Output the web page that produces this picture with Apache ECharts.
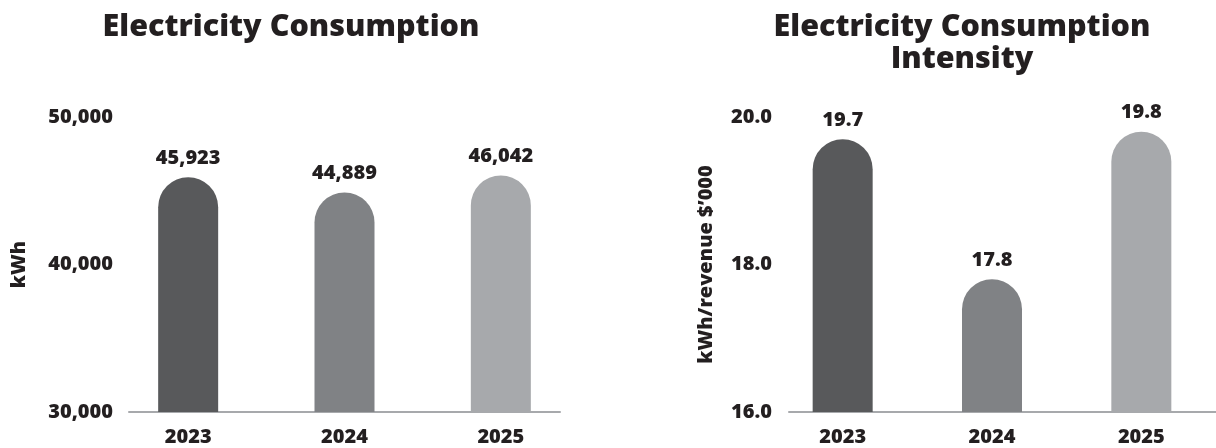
<!DOCTYPE html>
<html>
<head>
<meta charset="utf-8">
<style>
  html, body { margin: 0; padding: 0; background: #ffffff; }
  #chart { width: 1216px; height: 448px; }
</style>
<script src="https://cdn.jsdelivr.net/npm/echarts@6/dist/echarts.min.js"></script>
</head>
<body>
<div id="chart"></div>
<script>
// Reporting years
const years = ['2023', '2024', '2025'];

// Electricity consumption, kWh
const consumption = [45923, 44889, 46042];
const consumptionTicks = { min: 30000, max: 50000, step: 10000 };

// Consumption intensity, kWh per $'000 revenue
const intensity = [19.7, 17.8, 19.8];
const intensityTicks = { min: 16, max: 20, step: 2 };

// One shade per year, darkest first
const barColors = ['#58595b', '#808285', '#a7a9ac'];

const FONT = '"Open Sans", Lato, sans-serif';
const WEIGHT = 800;
const INK = '#231f20';
const AXIS_GREY = '#a7a9ac';

const chart = echarts.init(document.getElementById('chart'), null, { renderer: 'canvas' });

const plotTop = 117;
const plotHeight = 295;

function commas(v) {
  return String(Math.round(v)).replace(/\B(?=(\d{3})+(?!\d))/g, ',');
}

function barSeries(values, axisIdx, fmt) {
  return {
    type: 'bar',
    xAxisIndex: axisIdx,
    yAxisIndex: axisIdx,
    data: values,
    barWidth: 60,
    itemStyle: {
      color: p => barColors[p.dataIndex],
      borderRadius: [30, 30, 0, 0]
    },
    label: {
      show: true,
      position: 'top',
      distance: 9,
      formatter: p => fmt(p.value),
      fontFamily: FONT,
      fontWeight: WEIGHT,
      fontSize: 20,
      color: INK
    },
    silent: true
  };
}

const tickText = { fontFamily: FONT, fontWeight: WEIGHT, fontSize: 20, color: INK };
const titleText = { fontFamily: FONT, fontWeight: WEIGHT, fontSize: 30.5, color: INK, lineHeight: 32 };

const option = {
  backgroundColor: '#ffffff',
  animation: false,
  title: [
    {
      text: 'Electricity Consumption',
      left: 286,
      top: 6,
      textAlign: 'center',
      textStyle: titleText
    },
    {
      text: 'Electricity Consumption\nIntensity',
      left: 957,
      top: 6,
      textAlign: 'center',
      textStyle: titleText
    }
  ],
  grid: [
    // bar bands, left chart
    { left: 110, width: 469, top: plotTop, height: plotHeight },
    // baseline and value scale, left chart
    { left: 129, width: 431, top: plotTop, height: plotHeight },
    // bar bands, right chart
    { left: 768, width: 471, top: plotTop, height: plotHeight },
    // baseline and value scale, right chart
    { left: 789, width: 427, top: plotTop, height: plotHeight }
  ],
  xAxis: [
    {
      gridIndex: 0, type: 'category', data: years,
      axisLine: { show: false }, axisTick: { show: false },
      axisLabel: Object.assign({ margin: 15 }, tickText)
    },
    {
      gridIndex: 1, type: 'category', data: years,
      axisLine: { show: true, lineStyle: { color: AXIS_GREY, width: 2 } },
      axisTick: { show: false }, axisLabel: { show: false }
    },
    {
      gridIndex: 2, type: 'category', data: years,
      axisLine: { show: false }, axisTick: { show: false },
      axisLabel: Object.assign({ margin: 15 }, tickText)
    },
    {
      gridIndex: 3, type: 'category', data: years,
      axisLine: { show: true, lineStyle: { color: AXIS_GREY, width: 2 } },
      axisTick: { show: false }, axisLabel: { show: false }
    }
  ],
  yAxis: [
    {
      gridIndex: 0, type: 'value',
      min: consumptionTicks.min, max: consumptionTicks.max, interval: consumptionTicks.step,
      show: false
    },
    {
      gridIndex: 1, type: 'value',
      min: consumptionTicks.min, max: consumptionTicks.max, interval: consumptionTicks.step,
      axisLine: { show: false }, axisTick: { show: false }, splitLine: { show: false },
      axisLabel: Object.assign({ margin: 16, formatter: v => commas(v) }, tickText),
      name: 'kWh',
      nameLocation: 'middle',
      nameGap: 100,
      nameTextStyle: tickText
    },
    {
      gridIndex: 2, type: 'value',
      min: intensityTicks.min, max: intensityTicks.max, interval: intensityTicks.step,
      show: false
    },
    {
      gridIndex: 3, type: 'value',
      min: intensityTicks.min, max: intensityTicks.max, interval: intensityTicks.step,
      axisLine: { show: false }, axisTick: { show: false }, splitLine: { show: false },
      axisLabel: Object.assign({ margin: 17, formatter: v => v.toFixed(1) }, tickText),
      name: 'kWh/revenue $\u2019000',
      nameLocation: 'middle',
      nameGap: 73,
      nameTextStyle: tickText
    }
  ],
  series: [
    barSeries(consumption, 0, commas),
    barSeries(intensity, 2, v => v.toFixed(1))
  ]
};

chart.setOption(option);
</script>
</body>
</html>
